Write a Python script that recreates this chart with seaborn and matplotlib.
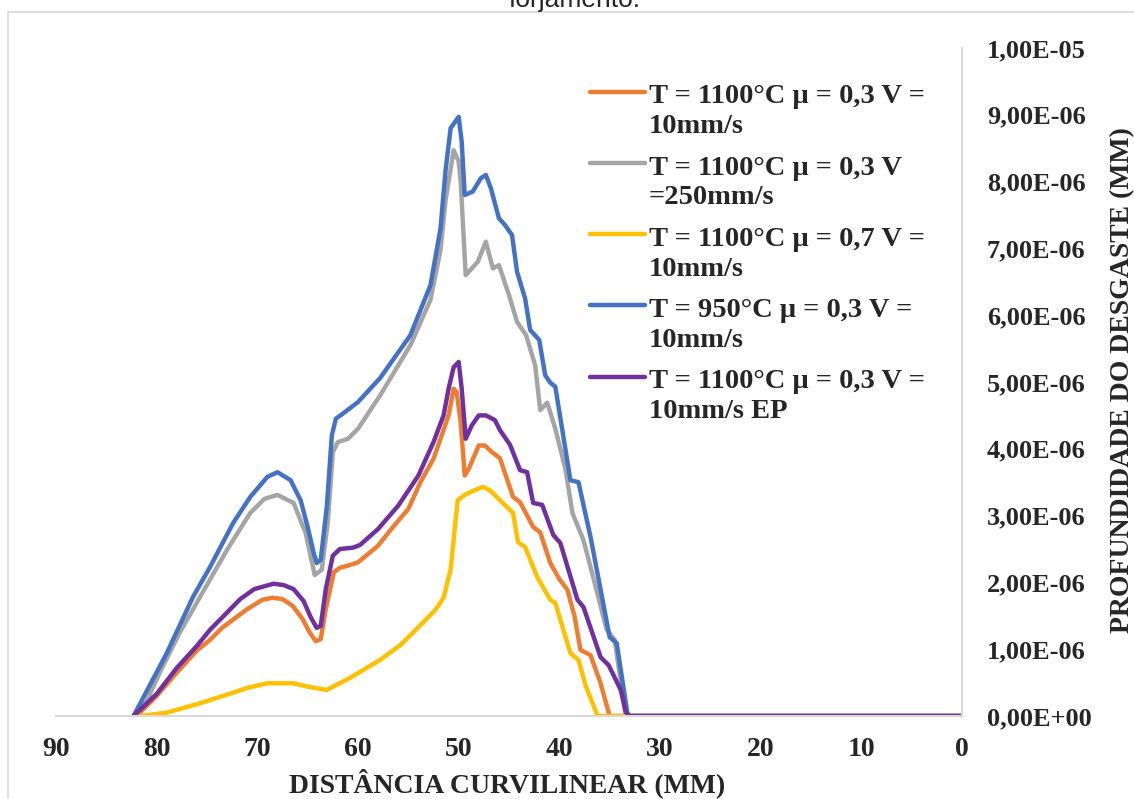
import matplotlib
matplotlib.use("Agg")
import matplotlib.pyplot as plt
from matplotlib.lines import Line2D
from matplotlib.patches import Rectangle
from matplotlib.ticker import FuncFormatter, MultipleLocator
import numpy as np
import pandas as pd
import seaborn as sns

# Wear depth (units of 1e-6 mm) along the curvilinear distance (mm)
x_1100_03_10 = [82.0, 80.0, 78.0, 76.0, 74.7, 73.5, 71.0, 69.5, 68.5, 67.5, 66.5, 65.5, 64.8, 64.2,
                63.7, 63.2, 62.4, 61.8, 61.0, 60.0, 58.0, 56.8, 55.0, 53.8, 52.5, 51.8, 51.0, 50.5,
                50.2, 49.8, 49.4, 49.0, 48.0, 47.4, 46.7, 45.9, 44.6, 43.9, 42.6, 41.9, 40.9, 40.0,
                39.2, 38.5, 37.9, 36.9, 35.9, 35.0, 0.0]
y_1100_03_10 = [0.0, 0.3, 0.65, 0.98, 1.14, 1.32, 1.6, 1.74, 1.77, 1.75, 1.65, 1.45, 1.25, 1.12,
                1.15, 1.6, 2.15, 2.22, 2.25, 2.3, 2.55, 2.78, 3.1, 3.5, 3.85, 4.15, 4.5, 4.9,
                4.85, 4.4, 3.6, 3.7, 4.05, 4.05, 3.95, 3.86, 3.28, 3.2, 2.83, 2.75, 2.29, 2.05,
                1.89, 1.5, 0.99, 0.91, 0.49, 0.0, 0.0]

x_1100_03_250 = [82.3, 81.0, 79.6, 77.7, 75.7, 73.0, 70.7, 69.3, 68.0, 66.4, 65.2, 64.3, 63.6, 63.0,
                 62.5, 62.0, 61.0, 60.0, 57.8, 54.8, 52.8, 51.8, 51.3, 50.5, 50.0, 49.8, 49.3, 48.1,
                 47.3, 46.6, 46.0, 45.0, 44.2, 43.3, 42.4, 41.9, 41.2, 40.4, 39.4, 38.7, 37.6, 36.5,
                 35.3, 34.5, 33.4, 0.0]
y_1100_03_250 = [0.0, 0.22, 0.68, 1.25, 1.78, 2.49, 3.04, 3.25, 3.31, 3.19, 2.74, 2.11, 2.19, 2.9,
                 3.95, 4.1, 4.15, 4.3, 4.8, 5.55, 6.23, 6.98, 7.72, 8.47, 8.3, 8.0, 6.6, 6.8,
                 7.1, 6.7, 6.75, 6.3, 5.9, 5.7, 5.25, 4.58, 4.69, 4.3, 3.7, 3.04, 2.63, 2.0,
                 1.29, 1.14, 0.0, 0.0]

x_1100_07_10 = [81.6, 79.0, 75.7, 73.0, 71.0, 69.0, 66.4, 65.0, 63.1, 60.8, 57.8, 55.8, 53.8, 52.3,
                51.5, 50.8, 50.1, 49.4, 48.4, 47.6, 46.9, 45.9, 44.6, 44.1, 43.4, 42.2, 40.9, 40.4,
                38.9, 38.1, 37.4, 36.2, 0.0]
y_1100_07_10 = [0.0, 0.05, 0.19, 0.32, 0.42, 0.49, 0.49, 0.44, 0.39, 0.57, 0.84, 1.06, 1.36, 1.59,
                1.77, 2.19, 3.23, 3.31, 3.38, 3.43, 3.38, 3.23, 3.04, 2.6, 2.53, 2.08, 1.74, 1.69,
                0.94, 0.84, 0.46, 0.0, 0.0]

x_950_03_10 = [82.3, 79.0, 76.4, 74.7, 72.4, 70.7, 69.0, 68.0, 66.7, 65.7, 65.0, 64.4, 64.1, 63.7,
               63.1, 62.6, 62.2, 61.3, 60.0, 57.8, 54.8, 52.8, 51.8, 51.3, 50.8, 50.0, 49.7, 49.4,
               48.6, 47.8, 47.3, 46.8, 46.0, 45.4, 44.7, 44.2, 43.4, 42.9, 42.0, 41.4, 40.9, 40.4,
               38.9, 38.1, 36.9, 35.0, 34.3, 33.2, 0.0]
y_950_03_10 = [0.0, 0.94, 1.78, 2.23, 2.89, 3.28, 3.58, 3.65, 3.53, 3.23, 2.83, 2.44, 2.29, 2.34,
               3.13, 4.2, 4.45, 4.55, 4.7, 5.06, 5.7, 6.45, 7.3, 8.17, 8.8, 8.97, 8.6, 7.8,
               7.85, 8.05, 8.1, 7.9, 7.45, 7.35, 7.2, 6.65, 6.25, 5.78, 5.63, 5.1, 4.99, 4.93,
               3.53, 3.5, 2.68, 1.18, 1.09, 0.0, 0.0]

x_1100_03_10_ep = [82.3, 80.0, 78.0, 76.0, 74.7, 73.0, 71.7, 70.3, 68.4, 67.4, 66.4, 65.4, 64.7, 64.1,
                   63.7, 63.2, 62.5, 61.8, 60.5, 59.8, 58.0, 56.0, 54.0, 52.5, 51.5, 51.0, 50.5, 50.0,
                   49.7, 49.3, 48.7, 48.0, 47.3, 46.4, 45.9, 44.9, 43.9, 43.2, 42.6, 41.7, 40.6, 39.9,
                   38.2, 37.6, 35.9, 35.1, 33.9, 33.4, 33.0, 0.0]
y_1100_03_10_ep = [0.0, 0.33, 0.72, 1.05, 1.29, 1.55, 1.75, 1.9, 1.98, 1.96, 1.9, 1.72, 1.48, 1.32,
                   1.35, 1.9, 2.4, 2.5, 2.52, 2.56, 2.8, 3.15, 3.6, 4.1, 4.5, 4.9, 5.22, 5.3,
                   4.9, 4.15, 4.35, 4.5, 4.5, 4.43, 4.28, 4.06, 3.68, 3.65, 3.19, 3.16, 2.71, 2.59,
                   1.74, 1.63, 0.88, 0.76, 0.39, 0.06, 0.0, 0.0]

labels = [
    "T = 1100°C μ = 0,3 V =\n10mm/s",
    "T = 1100°C μ = 0,3 V\n=250mm/s",
    "T = 1100°C μ = 0,7 V =\n10mm/s",
    "T = 950°C μ = 0,3 V =\n10mm/s",
    "T = 1100°C μ = 0,3 V =\n10mm/s EP",
]
colors = ["#ED7D31", "#A5A5A5", "#FFC000", "#4472C4", "#7030A0"]
series = [
    (x_1100_03_10, y_1100_03_10),
    (x_1100_03_250, y_1100_03_250),
    (x_1100_07_10, y_1100_07_10),
    (x_950_03_10, y_950_03_10),
    (x_1100_03_10_ep, y_1100_03_10_ep),
]
x_ticks = [90, 80, 70, 60, 50, 40, 30, 20, 10, 0]

frames = []
for lab, (xs, ys) in zip(labels, series):
    frames.append(pd.DataFrame({"dist": xs, "depth": np.array(ys) * 1e-6, "serie": lab}))
df = pd.concat(frames, ignore_index=True)

sns.set_theme(style="white")
plt.rcParams["font.family"] = ["Liberation Serif", "DejaVu Serif"]

W, H = 1134, 799
fig = plt.figure(figsize=(W / 100, H / 100), dpi=100)
ax = fig.add_axes([56 / W, 1 - 716 / H, (962 - 56) / W, (716 - 48) / H])

sns.lineplot(data=df, x="dist", y="depth", hue="serie", hue_order=labels,
             palette=dict(zip(labels, colors)), sort=False, estimator=None,
             linewidth=3.2, legend=False, ax=ax)
for ln in ax.get_lines():
    ln.set_solid_joinstyle("round")

ax.set_xlim(90, 0)
ax.set_ylim(0, 1e-5)
ax.set_xticks(x_ticks)
ax.yaxis.set_major_locator(MultipleLocator(1e-6))
ax.yaxis.set_major_formatter(FuncFormatter(lambda v, p: f"{v:.2E}".replace(".", ",")))
ax.yaxis.tick_right()
ax.yaxis.set_label_position("right")
ax.tick_params(axis="both", length=0)
ax.tick_params(axis="x", pad=15, labelsize=20)
ax.tick_params(axis="y", pad=18, labelsize=19)
for t in ax.get_xticklabels() + ax.get_yticklabels():
    t.set_fontweight("bold")

for side in ("left", "top"):
    ax.spines[side].set_visible(False)
for side in ("right", "bottom"):
    ax.spines[side].set_color("#D9D9D9")
    ax.spines[side].set_linewidth(1.5)
ax.grid(False)

ax.set_xlabel("DISTÂNCIA CURVILINEAR (MM)", fontsize=20, fontweight="bold")
ax.xaxis.set_label_coords((507 - 56) / 906, (716 - 768) / 668)
ax.set_ylabel("PROFUNDIDADE DO DESGASTE (MM)", fontsize=20, fontweight="bold")
ax.yaxis.set_label_coords((1110 - 56) / 906, (716 - 380) / 668)

# Legend: handle aligned with the first line of each two-line label;
# the text is anchored on the baseline of its second line
for i, (lab, col) in enumerate(zip(labels, colors)):
    ypix = 91.5 + 71.3 * i
    fig.add_artist(Line2D([590 / W, 645 / W], [1 - ypix / H, 1 - ypix / H],
                          color=col, lw=3.2, solid_capstyle="round"))
    fig.text(649 / W, 1 - (ypix + 10.5 + 31) / H, lab, ha="left", va="baseline",
             fontsize=20.5, fontweight="bold", linespacing=1.25)

fig.text(575 / W, 1 - 7 / H, "forjamento.", ha="center", va="baseline",
         fontsize=19, family="Liberation Sans")

fig.add_artist(Rectangle((8 / W, -0.05), 1.2, 1 - 12 / H + 0.05, transform=fig.transFigure,
                         fill=False, edgecolor="#D9D9D9", lw=1.2))

fig.savefig("out.png", dpi=100)
